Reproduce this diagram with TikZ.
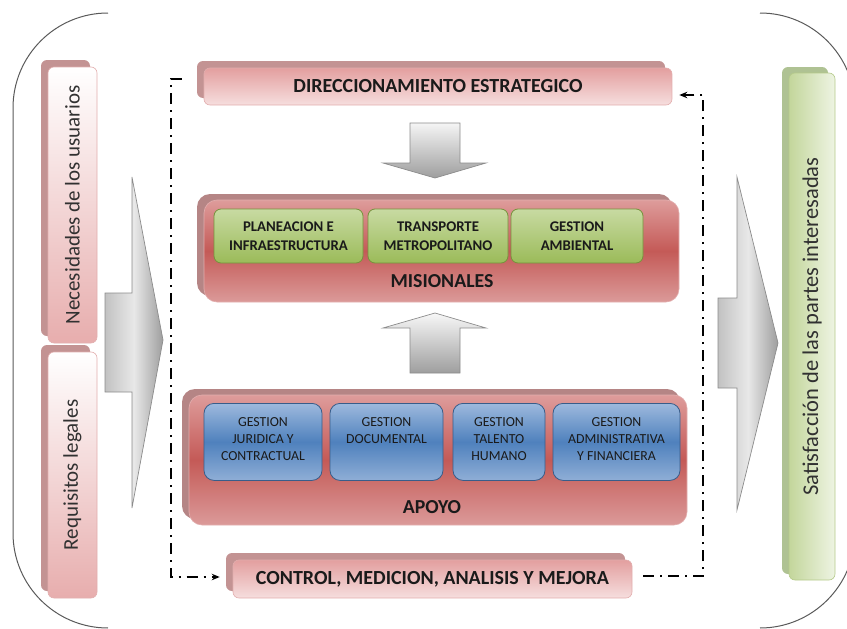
\documentclass[tikz,border=0pt]{standalone}
\usepackage{fontspec}
\setmainfont{Carlito}
\usetikzlibrary{shadows,arrows.meta}
\definecolor{framegray}{HTML}{595959}
\definecolor{pinktop}{HTML}{E39F9F}
\definecolor{pinkbot}{HTML}{F6DEDE}
\definecolor{pinkedge}{HTML}{E2AEAE}
\definecolor{shpink}{HTML}{C39393}
\definecolor{shred}{HTML}{B58585}
\definecolor{redtop}{HTML}{DE9C9B}
\definecolor{redmid}{HTML}{C45A57}
\definecolor{redbot}{HTML}{DB9A99}
\definecolor{grtop}{HTML}{C8DAA2}
\definecolor{grbot}{HTML}{9BBB59}
\definecolor{gredge}{HTML}{76923C}
\definecolor{bltop}{HTML}{9DB9DD}
\definecolor{blmid}{HTML}{4F81BD}
\definecolor{blbot}{HTML}{8FAED6}
\definecolor{bledge}{HTML}{385D8A}
\definecolor{sgleft}{HTML}{C3D69B}
\definecolor{sgright}{HTML}{EEF4E3}
\definecolor{sgedge}{HTML}{B5CA8A}
\definecolor{shgreen}{HTML}{AFC293}
\definecolor{arrowedge}{HTML}{8C8C8C}
\definecolor{txt}{HTML}{1A1A1A}
\tikzset{
  pinkshadow/.style={general shadow={shadow xshift=-7pt,shadow yshift=7pt,fill=shpink}},
  pinkbar/.style={rounded corners=6pt, draw=pinkedge, line width=0.6pt,
    top color=pinktop, bottom color=pinkbot, pinkshadow,
    text=txt, font=\fontsize{20}{22}\selectfont\bfseries},
  sidebar/.style={rounded corners=6pt, draw=pinkedge, line width=0.6pt,
    top color=white, bottom color=pinktop!85, pinkshadow},
  sidetext/.style={rotate=90, text=txt!90, font=\fontsize{21}{24}\selectfont},
  bigred/.style={rounded corners=13pt, draw=pinkedge, line width=0.6pt,
    top color=redtop, bottom color=redbot, middle color=redmid,
    general shadow={shadow xshift=-7pt,shadow yshift=6pt,fill=shred}},
  grouplabel/.style={text=txt, font=\fontsize{19.8}{22}\selectfont\bfseries},
  greenbox/.style={rounded corners=7pt, draw=gredge, line width=0.8pt,
    top color=grtop, bottom color=grbot, text=txt, align=center,
    font=\fontsize{14.8}{19}\selectfont\bfseries},
  bluebox/.style={rounded corners=10pt, draw=bledge, line width=0.8pt,
    top color=bltop, bottom color=blbot, middle color=blmid, text=txt, align=center,
    font=\fontsize{13.8}{17.3}\selectfont, anchor=north, inner sep=0pt},
  greenbar/.style={rounded corners=6pt, draw=sgedge, line width=0.6pt,
    left color=sgleft, right color=sgright,
    general shadow={shadow xshift=-7pt,shadow yshift=6pt,fill=shgreen}},
  grayarrow/.style={draw=arrowedge, line width=0.7pt},
  flow/.style={line width=2.1pt, dash pattern=on 11pt off 6pt on 2pt off 6pt,
    -{Stealth[length=8pt,width=6.5pt]}}
}
\begin{document}
\begin{tikzpicture}[x=1pt,y=-1pt]
\useasboundingbox (0,0) rectangle (847,629);
\clip (0,0) rectangle (847,629);
% outer frame
\draw[framegray, line width=1pt, rounded corners=95pt] (108,13) -- (13,13) -- (13,628) -- (108,628);
\draw[framegray, line width=1pt, rounded corners=95pt] (760,13) -- (855,13) -- (855,628) -- (760,628);

% side bars
\node[sidebar, minimum width=49pt, minimum height=276pt] (nec) at (72.5,205) {};
\node[sidetext] (necT) at (nec.center) {Necesidades de los usuarios};
\node[sidebar, minimum width=49pt, minimum height=246pt] (req) at (72.5,475) {};
\node[sidetext] (reqT) at (req.center) {Requisitos legales};
\node[greenbar, minimum width=46pt, minimum height=507pt] (sat) at (812,326.5) {};
\node[sidetext, font=\fontsize{22.5}{25}\selectfont] (satT) at (sat.center) {Satisfacción de las partes interesadas};

% big gray arrows
\shade[grayarrow, left color=black!24, right color=black!38, middle color=black!9]
  (105,293) -- (132,293) -- (132,177) -- (163,340) -- (132,508) -- (132,392) -- (105,392) -- cycle;
\shade[grayarrow, left color=black!24, right color=black!38, middle color=black!9]
  (718,298) -- (737,298) -- (737,177) -- (778,343) -- (737,510) -- (737,388) -- (718,388) -- cycle;
\shade[grayarrow, top color=black!4, bottom color=black!38]
  (410,123) -- (460,123) -- (460,163) -- (486,163) -- (435,178) -- (383,163) -- (410,163) -- cycle;
\shade[grayarrow, top color=black!3, bottom color=black!38]
  (435,313) -- (486,328) -- (460,328) -- (460,373) -- (410,373) -- (410,328) -- (383,328) -- cycle;

% top and bottom bars
\node[pinkbar, minimum width=468pt, minimum height=37pt] (dir) at (438,86.5) {DIRECCIONAMIENTO ESTRATEGICO};
\node[pinkbar, minimum width=399pt, minimum height=38pt] (ctrl) at (432.5,579) {CONTROL, MEDICION, ANALISIS Y MEJORA};

% misionales
\node[bigred, minimum width=475pt, minimum height=102pt] (mis) at (441.5,251) {};
\node[greenbox, minimum width=149pt, minimum height=54pt] (plan) at (288.5,236) {PLANEACION E\\INFRAESTRUCTURA};
\node[greenbox, minimum width=140pt, minimum height=54pt] (trans) at (438,236) {TRANSPORTE\\METROPOLITANO};
\node[greenbox, minimum width=132pt, minimum height=54pt] (amb) at (577,236) {GESTION\\AMBIENTAL};
\node[grouplabel] (misL) at (442,281) {MISIONALES};

% apoyo
\node[bigred, minimum width=498pt, minimum height=130pt] (apo) at (438,460) {};
\node[bluebox, minimum width=118pt, minimum height=77pt] (jur) at (263,403) {\\[-14pt]GESTION\\JURIDICA Y\\CONTRACTUAL};
\node[bluebox, minimum width=113pt, minimum height=77pt] (doc) at (386.5,403) {\\[-14pt]GESTION\\DOCUMENTAL\\\mbox{}};
\node[bluebox, minimum width=92pt, minimum height=77pt] (tal) at (499,403) {\\[-14pt]GESTION\\TALENTO\\HUMANO};
\node[bluebox, minimum width=127pt, minimum height=77pt] (adm) at (616.5,403) {\\[-14pt]GESTION\\ADMINISTRATIVA\\Y FINANCIERA};
\node[grouplabel] (apoL) at (432,507) {APOYO};

% feedback loop
\draw[flow] (dir.west) ++(-22,-7.5) -- ++(-11,0) |- ([xshift=-13pt,yshift=2pt]ctrl.west);
\draw[flow] (ctrl.east) ++(11,-3) -- ++(60,0) |- ([xshift=7pt,yshift=-8.5pt]dir.east);
\end{tikzpicture}
\end{document}
